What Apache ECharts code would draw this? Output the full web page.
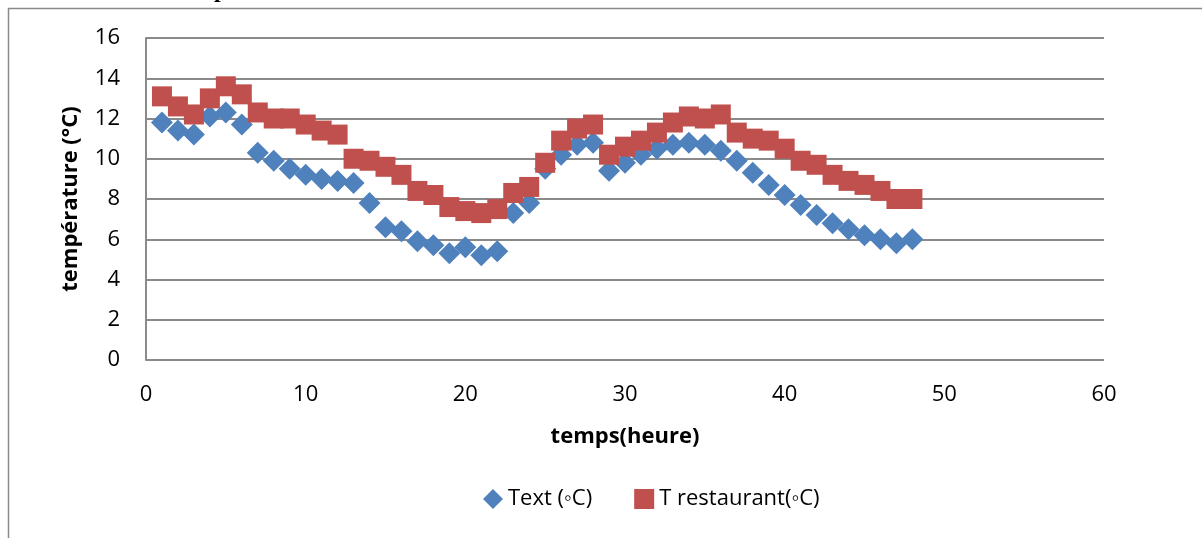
<!DOCTYPE html>
<html>
<head>
<meta charset="utf-8">
<script src="https://cdn.jsdelivr.net/npm/echarts@6/dist/echarts.min.js"></script>
<style>
  html, body { margin: 0; padding: 0; background: #fff; }
  #chart { width: 1202px; height: 538px; }
</style>
</head>
<body>
<div id="chart"></div>
<script>
const hours = [1, 2, 3, 4, 5, 6, 7, 8, 9, 10, 11, 12, 13, 14, 15, 16, 17, 18, 19, 20, 21, 22, 23, 24,
  25, 26, 27, 28, 29, 30, 31, 32, 33, 34, 35, 36, 37, 38, 39, 40, 41, 42, 43, 44, 45, 46, 47, 48];
const tExt = [11.8, 11.4, 11.2, 12.1, 12.3, 11.7, 10.3, 9.9, 9.5, 9.2, 9.0, 8.9, 8.8, 7.8, 6.6, 6.4,
  5.9, 5.7, 5.3, 5.6, 5.2, 5.4, 7.3, 7.8, 9.5, 10.2, 10.7, 10.8, 9.4, 9.8, 10.2, 10.5,
  10.7, 10.8, 10.7, 10.4, 9.9, 9.3, 8.7, 8.2, 7.7, 7.2, 6.8, 6.5, 6.2, 6.0, 5.8, 6.0];
const tRest = [13.1, 12.6, 12.2, 13.0, 13.6, 13.2, 12.3, 12.0, 12.0, 11.7, 11.4, 11.2, 10.0, 9.9, 9.6, 9.2,
  8.4, 8.2, 7.6, 7.4, 7.3, 7.5, 8.3, 8.6, 9.8, 10.9, 11.5, 11.7, 10.2, 10.6, 10.9, 11.3,
  11.8, 12.1, 12.0, 12.2, 11.3, 11.0, 10.9, 10.5, 9.9, 9.7, 9.2, 8.9, 8.7, 8.4, 8.0, 8.0];

const font = 'Open Sans';
const fs = 22;
const chart = echarts.init(document.getElementById('chart'));

chart.setOption({
  animation: false,
  graphic: [
    { type: 'rect', shape: { x: 8.5, y: 8.5, width: 1300, height: 600 },
      style: { fill: 'none', stroke: '#8a8a8a', lineWidth: 1.5 }, z: -1 },
    // bottom of a cut-off heading above the chart
    { type: 'text', left: 214, top: -21,
      style: { text: 'p', font: 'bold 24px "Liberation Serif"', fill: '#000' } }
  ],
  grid: { left: 146, right: 98, top: 38, bottom: 178 },
  legend: {
    top: 483,
    left: 478,
    itemGap: 42,
    itemWidth: 20,
    itemHeight: 20,
    textStyle: { fontFamily: font, fontSize: fs, color: '#000' },
    data: [
      { name: 'Text (◦C)', icon: 'diamond' },
      { name: 'T restaurant(◦C)', icon: 'rect' }
    ]
  },
  xAxis: {
    type: 'value', min: 0, max: 60, interval: 10,
    name: 'temps(heure)', nameLocation: 'middle', nameGap: 66,
    nameTextStyle: { fontFamily: font, fontSize: fs, fontWeight: 'bold', color: '#000' },
    axisLine: { show: false },
    axisTick: { show: false },
    splitLine: { show: false },
    axisLabel: { fontFamily: font, fontSize: fs, color: '#000', margin: 24 }
  },
  yAxis: {
    type: 'value', min: 0, max: 16, interval: 2,
    name: 'température (°C)', nameLocation: 'middle', nameGap: 64,
    nameTextStyle: { fontFamily: font, fontSize: fs, fontWeight: 'bold', color: '#000' },
    axisLine: { show: true, lineStyle: { color: '#8a8a8a', width: 2 } },
    axisTick: { show: false },
    splitLine: { lineStyle: { color: '#8a8a8a', width: 2 } },
    axisLabel: { fontFamily: font, fontSize: fs, color: '#000', margin: 26 }
  },
  series: [
    {
      name: 'Text (◦C)', type: 'scatter', symbol: 'diamond', symbolSize: 22,
      itemStyle: { color: '#4f81bd', opacity: 1 },
      data: hours.map((h, i) => [h, tExt[i]])
    },
    {
      name: 'T restaurant(◦C)', type: 'scatter', symbol: 'rect', symbolSize: 20,
      itemStyle: { color: '#c0504d', opacity: 1 },
      data: hours.map((h, i) => [h, tRest[i]])
    }
  ]
});
</script>
</body>
</html>
